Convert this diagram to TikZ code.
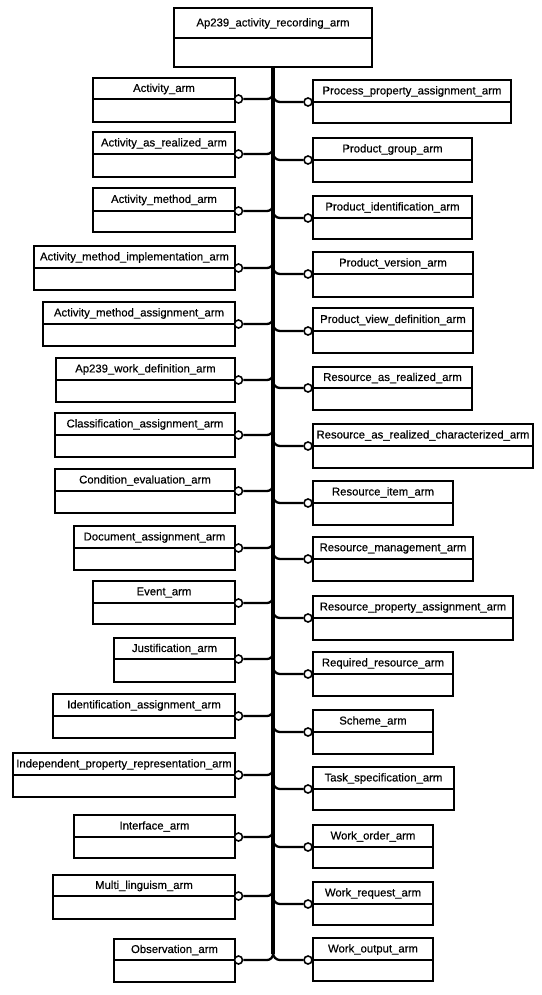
\documentclass[tikz,border=0pt]{standalone}
\usepackage{fontspec}
\setmainfont{Liberation Sans}
\newfontfamily\lblfont[FakeBold=0.4]{Liberation Sans}
\usetikzlibrary{fit}
\tikzset{
  boxst/.style={draw, line width=1.7pt, inner sep=0pt},
  divline/.style={line width=1.7pt},
  lbl/.style={inner sep=0pt, font=\lblfont\fontsize{8.5}{10}\selectfont},
  circ/.style={circle, draw, fill=white, line width=1.2pt, inner sep=0pt, minimum size=6pt},
  conn/.style={line width=1.7pt},
  trunkst/.style={line width=2.3pt}
}
% name, left, top, right, divider, bottom, label
\newcommand\umlbox[7]{%
  \coordinate (#1-nw) at (#2,#3);
  \coordinate (#1-se) at (#4,#6);
  \node[boxst, fit=(#1-nw)(#1-se)] (#1) {};
  \draw[divline] (#2,#5) -- (#4,#5);
  \node[lbl] (#1-t) at ({(#2+#4)/2},{(#3+#5)/2+0.5}) {#7};
}
% left box: name, left, top, divider, bottom, label
\newcommand\leftbox[6]{%
  \umlbox{#1}{#2}{#3}{235}{#4}{#5}{#6}
  \coordinate (#1-j) at (273,{#4-6});
  \coordinate (#1-k) at (267,#4);
  \node[circ] (#1-c) at (238.5,#4) {};
  \draw[conn] (#1-c) -- (#1-k) to[out=0,in=-90] (#1-j);
}
% right box: name, top, divider, bottom, right, label
\newcommand\rightbox[6]{%
  \umlbox{#1}{313}{#2}{#5}{#3}{#4}{#6}
  \coordinate (#1-j) at (273,{#3-7});
  \coordinate (#1-k) at (280,#3);
  \node[circ] (#1-c) at (308,#3) {};
  \draw[conn] (#1-j) to[out=-90,in=180] (#1-k) -- (#1-c);
}
\begin{document}
\begin{tikzpicture}[x=0.75pt,y=-0.75pt]
\fill[white] (0,0) rectangle (542,995);
\useasboundingbox (0,0) rectangle (542,995);

\umlbox{top}{174}{8}{372}{38}{67}{Ap239\_activity\_recording\_arm}
\coordinate (trunkend) at (273,954);
\draw[trunkst] (top.south) -- (trunkend);

\leftbox{L1}{93}{78}{99}{122}{Activity\_arm}
\leftbox{L2}{93}{132}{154}{177}{Activity\_as\_realized\_arm}
\leftbox{L3}{93}{188}{211}{232}{Activity\_method\_arm}
\leftbox{L4}{34}{246}{268}{290}{Activity\_method\_implementation\_arm}
\leftbox{L5}{43}{302}{324}{346}{Activity\_method\_assignment\_arm}
\leftbox{L6}{56}{358}{380}{402}{Ap239\_work\_definition\_arm}
\leftbox{L7}{55}{413}{435}{457}{Classification\_assignment\_arm}
\leftbox{L8}{55}{469}{491}{513}{Condition\_evaluation\_arm}
\leftbox{L9}{74}{526}{548}{570}{Document\_assignment\_arm}
\leftbox{L10}{93}{581}{603}{624}{Event\_arm}
\leftbox{L11}{114}{638}{659}{682}{Justification\_arm}
\leftbox{L12}{53}{694}{716}{738}{Identification\_assignment\_arm}
\leftbox{L13}{13}{753}{775}{797}{Independent\_property\_representation\_arm}
\leftbox{L14}{74}{815}{837}{858}{Interface\_arm}
\leftbox{L15}{53}{875}{896}{919}{Multi\_linguism\_arm}
\leftbox{L16}{114}{939}{960}{982}{Observation\_arm}

\rightbox{R1}{80}{102}{123}{511}{Process\_property\_assignment\_arm}
\rightbox{R2}{138}{160}{182}{472}{Product\_group\_arm}
\rightbox{R3}{196}{218}{239}{472}{Product\_identification\_arm}
\rightbox{R4}{252}{274}{297}{473}{Product\_version\_arm}
\rightbox{R5}{308}{331}{353}{473}{Product\_view\_definition\_arm}
\rightbox{R6}{367}{388}{410}{472}{Resource\_as\_realized\_arm}
\rightbox{R7}{424}{446}{468}{533}{Resource\_as\_realized\_characterized\_arm}
\rightbox{R8}{481}{503}{525}{453}{Resource\_item\_arm}
\rightbox{R9}{537}{559}{581}{473}{Resource\_management\_arm}
\rightbox{R10}{596}{618}{640}{513}{Resource\_property\_assignment\_arm}
\rightbox{R11}{652}{674}{696}{453}{Required\_resource\_arm}
\rightbox{R12}{710}{732}{754}{433}{Scheme\_arm}
\rightbox{R13}{767}{789}{810}{454}{Task\_specification\_arm}
\rightbox{R14}{825}{847}{868}{433}{Work\_order\_arm}
\rightbox{R15}{882}{904}{925}{433}{Work\_request\_arm}
\rightbox{R16}{938}{960}{981}{433}{Work\_output\_arm}
\end{tikzpicture}
\end{document}
